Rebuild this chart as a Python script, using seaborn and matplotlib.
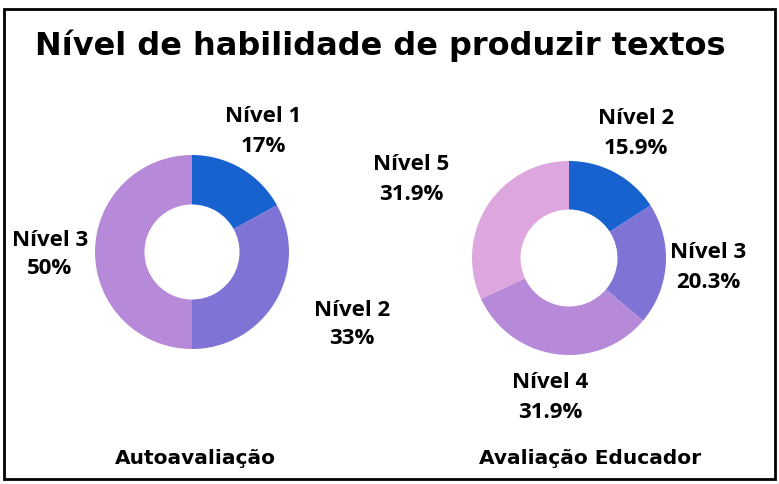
import matplotlib
matplotlib.use("Agg")
import matplotlib.pyplot as plt
import seaborn as sns

# Data
left_levels = ["Nível 1", "Nível 2", "Nível 3"]
left_values = [17, 33, 50]
left_labels = ["17%", "33%", "50%"]

right_levels = ["Nível 2", "Nível 3", "Nível 4", "Nível 5"]
right_values = [15.9, 20.3, 31.9, 31.9]
right_labels = ["15.9%", "20.3%", "31.9%", "31.9%"]

titles = ["Autoavaliação", "Avaliação Educador"]
main_title = "Nível de habilidade de produzir textos"

colors = sns.color_palette(["#1762CF", "#8073D6", "#B78AD9", "#DEA6DE"])

sns.set_theme(style="white")
plt.rcParams["font.family"] = ["Open Sans", "DejaVu Sans"]

W, H = 779, 484
fig = plt.figure(figsize=(W / 100, H / 100), dpi=100)
fig.patch.set_facecolor("white")


def px_axes(cx, cy, r):
    return fig.add_axes([(cx - r) / W, (H - cy - r) / H, 2 * r / W, 2 * r / H])


def fig_text(x, y, s, size, **kw):
    fig.text(x / W, 1 - y / H, s, ha="center", va="center", fontsize=size,
             fontweight="bold", color="black", family=["Open Sans", "DejaVu Sans"], **kw)


# Donuts
ax1 = px_axes(192, 252, 97)
ax1.pie(left_values, colors=colors[:3], startangle=90, counterclock=False,
        radius=1, wedgeprops=dict(width=0.51, linewidth=0))
ax1.set_xlim(-1, 1); ax1.set_ylim(-1, 1); ax1.axis("off")

ax2 = px_axes(569, 258, 97)
ax2.pie(right_values, colors=colors[:4], startangle=90, counterclock=False,
        radius=1, wedgeprops=dict(width=0.5, linewidth=0))
ax2.set_xlim(-1, 1); ax2.set_ylim(-1, 1); ax2.axis("off")

# Slice labels
left_pos = [(263, 117), (352, 310), (50, 240)]
for (x, y), lev, lab in zip(left_pos, left_levels, left_labels):
    fig_text(x, y, lev, 16)
    fig_text(x, y + 29, lab, 16)

right_pos = [(636, 118), (708, 252), (550, 382), (411, 165)]
for (x, y), lev, lab in zip(right_pos, right_levels, right_labels):
    fig_text(x, y, lev, 16)
    fig_text(x, y + 30, lab, 16)

# Title and subtitles
fig.text(380 / W, 1 - 46 / H, main_title, ha="center", va="center",
         fontsize=23, fontweight="bold", color="black", family=["DejaVu Sans"])
fig.text(195 / W, 1 - 458 / H, titles[0], ha="center", va="center",
         fontsize=14.5, fontweight="bold", color="black", family=["DejaVu Sans"])
fig.text(590 / W, 1 - 458 / H, titles[1], ha="center", va="center",
         fontsize=14.5, fontweight="bold", color="black", family=["DejaVu Sans"])

# Frame
frame = plt.Rectangle((4 / W, 5 / H), 771 / W, 470 / H, transform=fig.transFigure,
                      fill=False, edgecolor="black", linewidth=2)
fig.patches.append(frame)

fig.savefig("out.png", dpi=100, facecolor="white")
